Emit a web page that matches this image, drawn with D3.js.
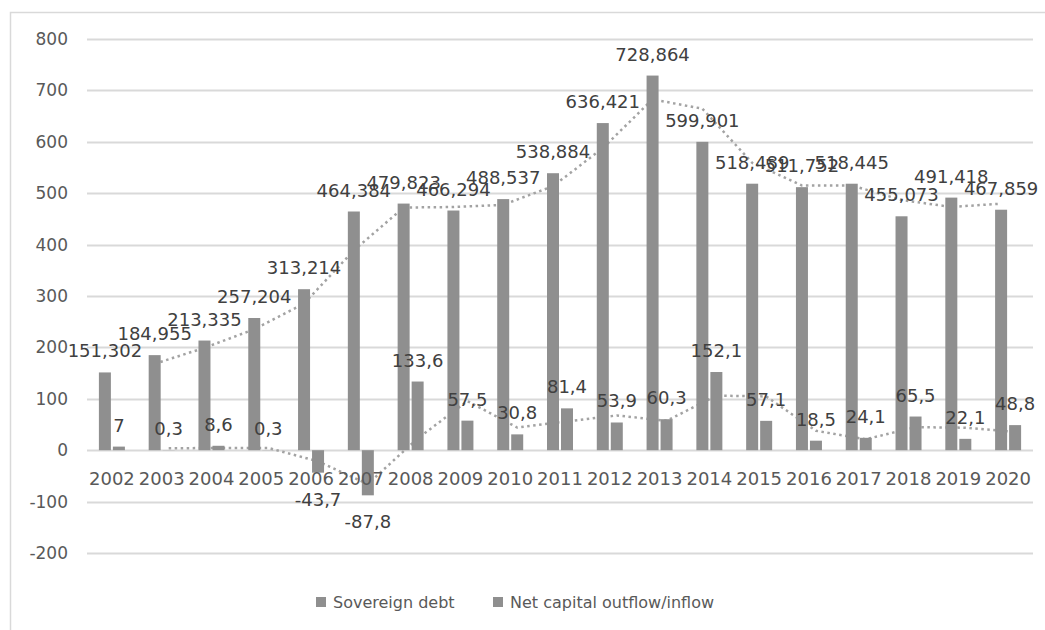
<!DOCTYPE html>
<html>
<head>
<meta charset="utf-8">
<script src="https://cdn.jsdelivr.net/npm/d3@7"></script>
<style>
  html, body { margin: 0; padding: 0; background: #fff; }
  svg { display: block; font-family: "DejaVu Sans", sans-serif; }
</style>
</head>
<body>
<svg id="chart" width="1045" height="630"></svg>
<script>
const years = ["2002","2003","2004","2005","2006","2007","2008","2009","2010","2011","2012","2013","2014","2015","2016","2017","2018","2019","2020"];
const sovereignDebt = [151.302,184.955,213.335,257.204,313.214,464.384,479.823,466.294,488.537,538.884,636.421,728.864,599.901,518.489,511.752,518.445,455.073,491.418,467.859];
const netCapital = [7,0.3,8.6,0.3,-43.7,-87.8,133.6,57.5,30.8,81.4,53.9,60.3,152.1,57.1,18.5,24.1,65.5,22.1,48.8];
const yTicks = [-200,-100,0,100,200,300,400,500,600,700,800];
const seriesNames = ["Sovereign debt","Net capital outflow/inflow"];

const svg = d3.select("#chart");
const plot = {left: 87, right: 1033, top: 39, bottom: 553};

const barColor = "#8f8f8f";
const gridColor = "#d9d9d9";
const trendColor = "#a3a3a3";

// chart border
svg.append("rect").attr("x", 10.5).attr("y", 12.5).attr("width", 1050).attr("height", 640)
  .attr("fill", "none").attr("stroke", "#d9d9d9").attr("stroke-width", 1.5);

const x = d3.scaleBand().domain(years).range([plot.left, plot.right]).paddingInner(0).paddingOuter(0);
const y = d3.scaleLinear().domain([-200, 800]).range([plot.bottom, plot.top]);

const barW = 12, barGap = 1;
const sovX = d => x(d) + x.bandwidth() / 2 - barGap - barW;
const netX = d => x(d) + x.bandwidth() / 2 + barGap;

// gridlines
svg.append("g").selectAll("line").data(yTicks).join("line")
  .attr("x1", plot.left).attr("x2", plot.right)
  .attr("y1", d => Math.round(y(d)) + 0.5).attr("y2", d => Math.round(y(d)) + 0.5)
  .attr("stroke", gridColor).attr("stroke-width", 2);

// y axis labels
const yAxis = d3.axisLeft(y).tickValues(yTicks).tickSize(0).tickPadding(0).tickFormat(d => String(d));
const yg = svg.append("g").attr("transform", "translate(68,0)").call(yAxis);
yg.select(".domain").remove();
yg.selectAll("text").attr("fill", "#595959").attr("font-size", "17px").attr("font-family", "DejaVu Sans, sans-serif");

// moving average trendlines (2-period, as Excel)
function movingAvg(arr) {
  const out = [];
  for (let i = 1; i < arr.length; i++) out.push({year: years[i], v: (arr[i - 1] + arr[i]) / 2});
  return out;
}
const line = d3.line().x(d => d.x).y(d => y(d.v));
const sovTrend = movingAvg(sovereignDebt).map(d => ({x: sovX(d.year) + barW / 2, v: d.v}));
const netTrend = movingAvg(netCapital).map(d => ({x: netX(d.year) + barW / 2, v: d.v}));
[sovTrend, netTrend].forEach(t => {
  svg.append("path").datum(t).attr("d", line).attr("fill", "none")
    .attr("stroke", trendColor).attr("stroke-width", 2.5)
    .attr("stroke-dasharray", "2.5 3.5");
});

// bars
svg.append("g").selectAll("rect").data(years).join("rect")
  .attr("x", d => sovX(d)).attr("width", barW)
  .attr("y", (d, i) => y(Math.max(0, sovereignDebt[i])))
  .attr("height", (d, i) => Math.abs(y(sovereignDebt[i]) - y(0)))
  .attr("fill", barColor);
svg.append("g").selectAll("rect").data(years).join("rect")
  .attr("x", d => netX(d)).attr("width", barW)
  .attr("y", (d, i) => y(Math.max(0, netCapital[i])))
  .attr("height", (d, i) => Math.abs(y(netCapital[i]) - y(0)))
  .attr("fill", barColor);

// x axis labels at zero line
const xAxis = d3.axisBottom(x).tickSize(0).tickPadding(0);
const xg = svg.append("g").attr("transform", `translate(0,${y(0)})`).call(xAxis);
xg.select(".domain").remove();
xg.selectAll("text").attr("fill", "#595959").attr("font-size", "18px")
  .attr("font-family", "DejaVu Sans, sans-serif").attr("dy", "0").attr("y", 35);

// data labels
const fmt = v => String(v).replace(".", ",");
const labelColor = "#404040";
svg.append("g").selectAll("text").data(years).join("text")
  .attr("x", d => sovX(d) + barW / 2)
  .attr("y", (d, i) => y(sovereignDebt[i]) - 15)
  .attr("text-anchor", "middle").attr("fill", labelColor).attr("font-size", "18px")
  .text((d, i) => fmt(sovereignDebt[i]));
svg.append("g").selectAll("text").data(years).join("text")
  .attr("x", d => netX(d) + barW / 2)
  .attr("y", (d, i) => netCapital[i] >= 0 ? y(netCapital[i]) - 15 : y(netCapital[i]) + 33)
  .attr("text-anchor", "middle").attr("fill", labelColor).attr("font-size", "18px")
  .text((d, i) => fmt(netCapital[i]));

// legend
const leg = svg.append("g");
const legItems = [{name: seriesNames[0], x: 316}, {name: seriesNames[1], x: 493}];
legItems.forEach(it => {
  leg.append("rect").attr("x", it.x).attr("y", 597).attr("width", 10).attr("height", 10).attr("fill", barColor);
  leg.append("text").attr("x", it.x + 17).attr("y", 608).attr("fill", "#595959")
    .attr("font-size", "16px").text(it.name);
});
</script>
</body>
</html>
